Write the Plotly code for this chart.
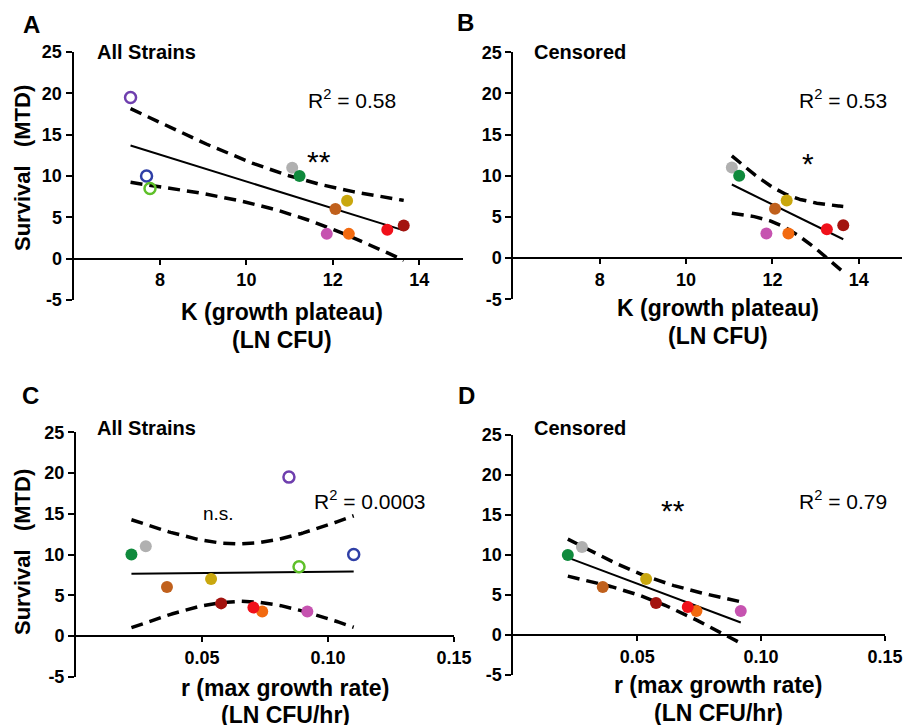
import math
import numpy as np
import plotly.graph_objects as go

# ---------------- data ----------------
strain_colors = ["#6f3fae", "#2f3fa6", "#5fc02a", "#b0b0b0", "#0f8a3c", "#c9a70e",
                 "#c0601c", "#c653b0", "#f26a10", "#f0101a", "#a3130f"]
censored = [False, False, False, True, True, True, True, True, True, True, True]
K_plateau = [7.32, 7.69, 7.77, 11.06, 11.23, 12.33, 12.06, 11.86, 12.37, 13.26, 13.64]
r_rate = [0.0845, 0.1102, 0.0885, 0.0277, 0.022, 0.0536, 0.0361, 0.0918, 0.0739, 0.0704, 0.0576]
survival_mtd = [19.5, 10, 8.5, 11, 10, 7, 6, 3, 3, 3.5, 4]

k_ticks = [8, 10, 12, 14]
r_ticks = [0.05, 0.10, 0.15]
r_ticktext = ["0.05", "0.10", "0.15"]
y_ticks = [-5, 0, 5, 10, 15, 20, 25]

panel_letters = ["A", "B", "C", "D"]
panel_subtitles = ["All Strains", "Censored", "All Strains", "Censored"]
r2_labels = ["R<sup>2</sup> = 0.58", "R<sup>2</sup> = 0.53", "R<sup>2</sup> = 0.0003", "R<sup>2</sup> = 0.79"]
signif_labels = ["**", "*", "n.s.", "**"]

W, H = 903, 725
FONT = "Liberation Sans, Arial, sans-serif"


def px(x):
    return x / W


def py(y):
    return 1 - y / H


def t_crit975(df):
    c = math.gamma((df + 1) / 2) / (math.sqrt(df * math.pi) * math.gamma(df / 2))

    def cdf(t):
        xs = np.linspace(0, t, 4001)
        ys = c * (1 + xs ** 2 / df) ** (-(df + 1) / 2)
        return 0.5 + np.trapezoid(ys, xs)

    lo, hi = 0.0, 20.0
    for _ in range(80):
        mid = (lo + hi) / 2
        if cdf(mid) < 0.975:
            lo = mid
        else:
            hi = mid
    return (lo + hi) / 2


def fit_bands(x, y):
    x = np.asarray(x, float)
    y = np.asarray(y, float)
    n = len(x)
    mx, my = x.mean(), y.mean()
    sxx = ((x - mx) ** 2).sum()
    slope = ((x - mx) * (y - my)).sum() / sxx
    icpt = my - slope * mx
    resid = y - (icpt + slope * x)
    s = math.sqrt((resid ** 2).sum() / (n - 2))
    t = t_crit975(n - 2)
    xg = np.linspace(x.min(), x.max(), 120)
    yg = icpt + slope * xg
    half = t * s * np.sqrt(1 / n + (xg - mx) ** 2 / sxx)
    return xg, yg, yg - half, yg + half


# panel geometry in pixels: (x_left, x_right, y_top(25), y_bottom(-5))
geom = [
    (73.5, 462.5, 52, 300),
    (513.3, 902.0, 52.3, 299.3),
    (76, 454, 432.3, 676.7),
    (513.3, 885, 435, 675),
]
xranges = [[6, 15], [6, 15], [0, 0.15], [0, 0.15]]

fig = go.Figure()
layout = dict(
    width=W, height=H, margin=dict(l=0, r=0, t=0, b=0, autoexpand=False),
    plot_bgcolor="white", paper_bgcolor="white", showlegend=False,
    font=dict(family=FONT, color="black"),
)


def bold(v):
    return "<b>%s</b>" % v


annotations = []
for i in range(4):
    xl, xr, yt, yb = geom[i]
    ax = "" if i == 0 else str(i + 1)
    ydom = [py(yb), py(yt)]
    zero_pos = ydom[0] + (ydom[1] - ydom[0]) * (5 / 30)
    is_k = i < 2
    layout["xaxis" + ax] = dict(
        domain=[px(xl), px(xr)], range=xranges[i], anchor="free", position=zero_pos,
        showline=True, linewidth=2, linecolor="black", showgrid=False, zeroline=False,
        ticks="outside", ticklen=5, tickwidth=2, tickcolor="black",
        tickvals=k_ticks if is_k else r_ticks,
        ticktext=[bold(v) for v in k_ticks] if is_k else [bold(v) for v in r_ticktext],
        tickfont=dict(family=FONT, size=18, color="black"),
        automargin=False,
    )
    layout["yaxis" + ax] = dict(
        domain=ydom, range=[-5, 25], anchor="x" + ax,
        showline=True, linewidth=2, linecolor="black", showgrid=False, zeroline=False,
        ticks="outside", ticklen=6, tickwidth=2, tickcolor="black",
        tickvals=y_ticks, ticktext=[bold(v) for v in y_ticks],
        tickfont=dict(family=FONT, size=18, color="black"),
        automargin=False,
    )

    xs_all = K_plateau if is_k else r_rate
    if i in (0, 2):
        idx = list(range(len(xs_all)))
    else:
        idx = [j for j in range(len(xs_all)) if censored[j]]
    xv = [xs_all[j] for j in idx]
    yv = [survival_mtd[j] for j in idx]
    xg, yg, lo, hi = fit_bands(xv, yv)
    xa, ya = "x" + ax, "y" + ax
    for band in (hi, lo):
        fig.add_trace(go.Scatter(x=xg, y=band, mode="lines", xaxis=xa, yaxis=ya,
                                 line=dict(color="black", width=3.5, dash="12px,7px"),
                                 hoverinfo="skip"))
    fig.add_trace(go.Scatter(x=xg, y=yg, mode="lines", xaxis=xa, yaxis=ya,
                             line=dict(color="black", width=2), hoverinfo="skip"))
    filled = [j for j in idx if censored[j]]
    opened = [j for j in idx if not censored[j]]
    if opened:
        fig.add_trace(go.Scatter(
            x=[xs_all[j] for j in opened], y=[survival_mtd[j] for j in opened],
            mode="markers", xaxis=xa, yaxis=ya,
            marker=dict(symbol="circle-open", size=11,
                        color=[strain_colors[j] for j in opened],
                        line=dict(width=2.5, color=[strain_colors[j] for j in opened]))))
    fig.add_trace(go.Scatter(
        x=[xs_all[j] for j in filled], y=[survival_mtd[j] for j in filled],
        mode="markers", xaxis=xa, yaxis=ya,
        marker=dict(symbol="circle", size=12, color=[strain_colors[j] for j in filled],
                    line=dict(width=0))))

# text annotations (pixel positions of text centres)
letter_pos = [(31, 25), (465, 23), (30, 395), (466, 395)]
sub_pos = [(146, 52), (580, 52), (146, 428), (580, 428)]
r2_pos = [(352, 99), (843, 99), (370, 500), (843, 500)]
sig_pos = [(319, 162), (808, 164), (218, 513), (673, 510)]
sig_size = [30, 30, 19, 30]


def ann(x, y, text, size, angle=0):
    return dict(x=px(x), y=py(y), xref="paper", yref="paper", text=text,
                showarrow=False, xanchor="center", yanchor="middle", textangle=angle,
                font=dict(size=size, family=FONT, color="black"))


for i in range(4):
    annotations.append(ann(*letter_pos[i], bold(panel_letters[i]), 24))
    annotations.append(ann(*sub_pos[i], bold(panel_subtitles[i]), 20))
    annotations.append(ann(*r2_pos[i], r2_labels[i], 21))
    annotations.append(ann(*sig_pos[i], signif_labels[i], sig_size[i]))

xtitles = [("K (growth plateau)", "(LN CFU)"), ("K (growth plateau)", "(LN CFU)"),
           ("r (max growth rate)", "(LN CFU/hr)"), ("r (max growth rate)", "(LN CFU/hr)")]
xt_pos = [(282, 312, 340), (718, 308, 336), (285, 688, 715), (718, 685, 713)]
for i in range(4):
    cx, y1, y2 = xt_pos[i]
    annotations.append(ann(cx, y1, bold(xtitles[i][0]), 23))
    annotations.append(ann(cx, y2, bold(xtitles[i][1]), 23))

ytitle = bold("Survival\u00a0\u00a0\u00a0(MTD)")
for (cx, cy) in [(22, 168), (22, 552)]:
    annotations.append(ann(cx, cy, ytitle, 22, angle=-90))

layout["annotations"] = annotations
fig.update_layout(**layout)
fig.write_html("out.html", config={"displayModeBar": False},
               post_script="document.body.style.margin='0px';")
